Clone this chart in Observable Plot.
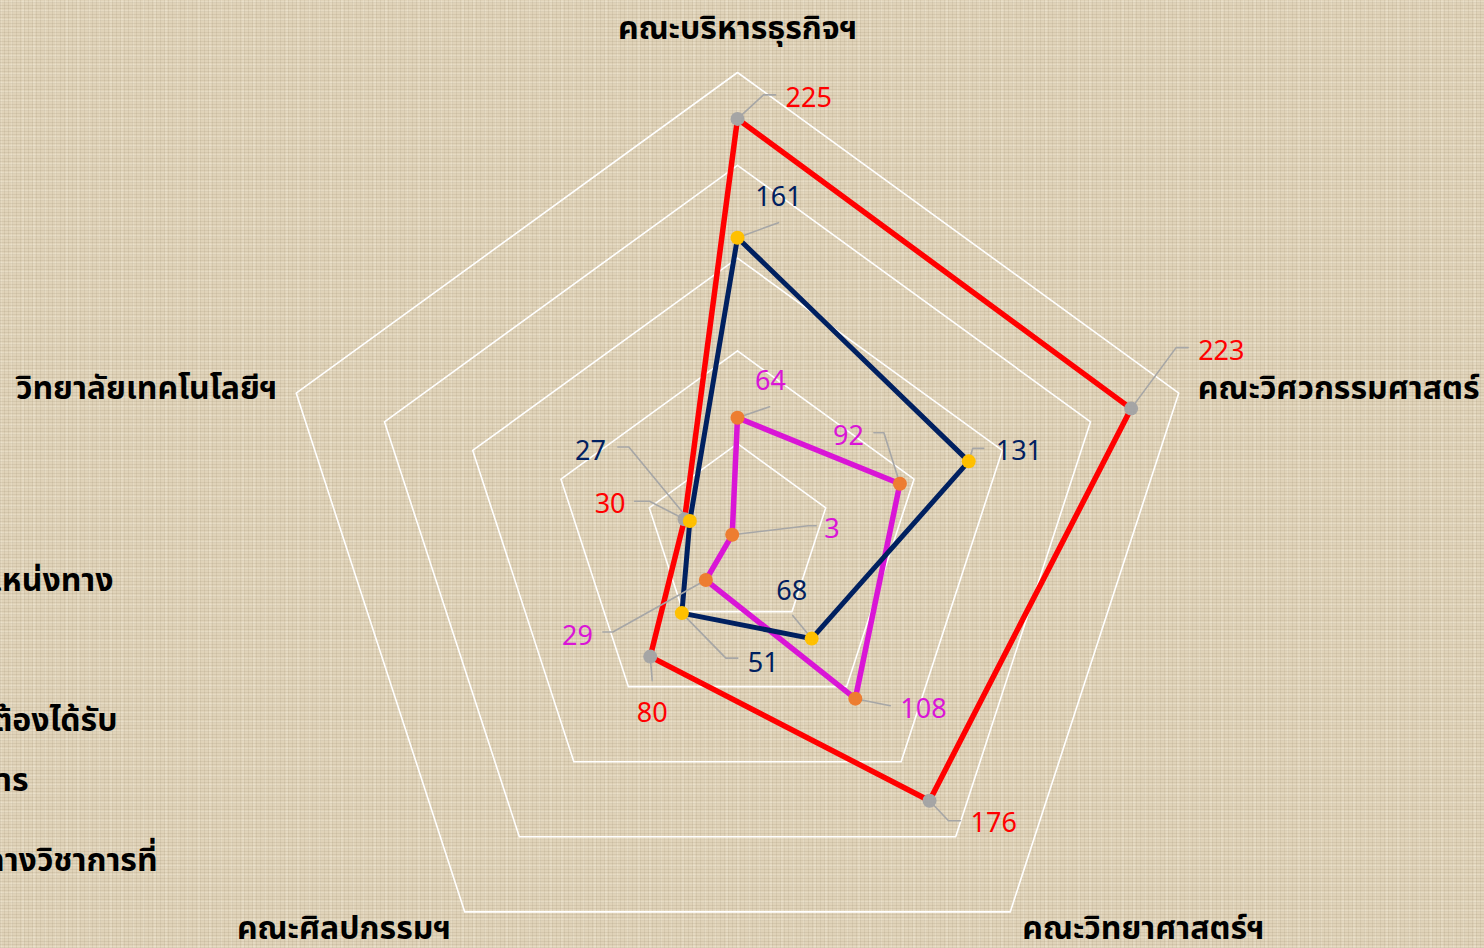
<!DOCTYPE html>
<html>
<head>
<meta charset="utf-8">
<script src="https://cdn.jsdelivr.net/npm/d3@7"></script>
<script src="https://cdn.jsdelivr.net/npm/@observablehq/plot@0.6"></script>
<style>
  html, body { margin: 0; padding: 0; width: 1484px; height: 948px; overflow: hidden; }
  body {
    background-color: #e0d3b9;
    background-image:
      repeating-linear-gradient(0deg, rgba(110, 92, 60, 0.10) 0px, rgba(110, 92, 60, 0.10) 1px, transparent 1px, transparent 3px),
      repeating-linear-gradient(90deg, rgba(110, 92, 60, 0.09) 0px, rgba(110, 92, 60, 0.09) 1px, transparent 1px, transparent 4px),
      repeating-linear-gradient(0deg, rgba(255, 250, 235, 0.20) 0px, rgba(255, 250, 235, 0.20) 2px, transparent 2px, transparent 9px),
      repeating-linear-gradient(90deg, rgba(255, 250, 235, 0.16) 0px, rgba(255, 250, 235, 0.16) 2px, transparent 2px, transparent 11px);
  }
  #chart svg { display: block; }
</style>
</head>
<body>
<div id="chart"></div>
<script>
// ---------------- data ----------------
const faculties = ["คณะบริหารธุรกิจฯ", "คณะวิศวกรรมศาสตร์", "คณะวิทยาศาสตร์ฯ", "คณะศิลปกรรมฯ", "วิทยาลัยเทคโนโลยีฯ"];
const seriesRed = [225, 223, 176, 80, 30];
const seriesNavy = [161, 131, 68, 51, 27];
const seriesMagenta = [64, 92, 108, 29, 3];
const ringTicks = [50, 100, 150, 200, 250];
// legend lines (legend sits mostly off the left edge of the picture)
const legendTexts = ["ตำแหน่งทาง", "ต้องได้รับ", "การ", "ทางวิชาการที่"];

// ---------------- styles / layout ----------------
const W = 1484, H = 948;
const cx = 737, cy = 536;          // centre of the radar in px
const k = 464 / 250;               // px per unit
const FONT = "'Noto Sans Thai', 'Noto Sans', 'Leelawadee UI', Tahoma, sans-serif";

const series = [
  {name: "red", values: seriesRed, line: "#ff0000", dot: "#a5a5a5", text: "#ff0000", width: 5.5},
  {name: "magenta", values: seriesMagenta, line: "#d915d6", dot: "#ed7d31", text: "#d915d6", width: 5.5},
  {name: "navy", values: seriesNavy, line: "#002060", dot: "#ffc000", text: "#002060", width: 5}
];

// label leader offsets (px, y down) per series per axis: leader polyline points, text position, anchor
const labelStyle = {
  red: [
    {lead: [[26, -24], [38, -24]], text: [48, -21], anchor: "start"},
    {lead: [[45, -61], [57, -61]], text: [67, -57], anchor: "start"},
    {lead: [[19, 20], [31, 20]], text: [41, 23], anchor: "start"},
    {lead: [[2, 24]], text: [2, 57], anchor: "middle"},
    {lead: [[-35, -18], [-50, -18]], text: [-59, -15], anchor: "end"}
  ],
  navy: [
    {lead: [[41, -15]], text: [41, -40], anchor: "middle"},
    {lead: [[4, -13], [15, -13]], text: [27, -10], anchor: "start"},
    {lead: [[-19, -23]], text: [-20, -47], anchor: "middle"},
    {lead: [[44, 45], [56, 45]], text: [66, 50], anchor: "start"},
    {lead: [[-61, -74], [-72, -74]], text: [-84, -70], anchor: "end"}
  ],
  magenta: [
    {lead: [[32, -11]], text: [33, -36], anchor: "middle"},
    {lead: [[-16, -51], [-26, -51]], text: [-36, -47], anchor: "end"},
    {lead: [[35, 7]], text: [45, 11], anchor: "start"},
    {lead: [[-93, 52], [-103, 52]], text: [-113, 56], anchor: "end"},
    {lead: [[76, -9], [84, -9]], text: [92, -5], anchor: "start"}
  ]
};

// axis label placement relative to the outer ring vertex (px, y down)
const axisLabelStyle = [
  {off: [0, -44], anchor: "middle"},
  {off: [19, -4], anchor: "start"},
  {off: [12, 17], anchor: "start"},
  {off: [-14, 17], anchor: "end"},
  {off: [-19, -4], anchor: "end"}
];
// legend line placement (px) — right end of each clipped legend line
const legendStyle = [
  {x: 113, y: 580}, {x: 117, y: 720}, {x: 28, y: 780}, {x: 157, y: 860}
];

// ---------------- geometry helpers ----------------
const n = faculties.length;
const ang = i => i * 2 * Math.PI / n;
const px = (i, r) => r * Math.sin(ang(i));
const py = (i, r) => r * Math.cos(ang(i));
const off = ([dx, dy]) => [dx / k, -dy / k];

// grid rings
const rings = ringTicks.flatMap(t =>
  d3.range(n + 1).map(j => ({ring: t, x: px(j % n, t), y: py(j % n, t)}))
);

// series polygons and dots
const polys = series.flatMap(s =>
  d3.range(n + 1).map(j => ({s: s.name, x: px(j % n, s.values[j % n]), y: py(j % n, s.values[j % n])}))
);
const dots = series.flatMap(s =>
  s.values.map((v, i) => ({s: s.name, fill: s.dot, x: px(i, v), y: py(i, v), v, i}))
);

// leaders + labels
const leaders = [];
const labels = [];
series.forEach(s => {
  s.values.forEach((v, i) => {
    const st = labelStyle[s.name][i];
    const x0 = px(i, v), y0 = py(i, v);
    const id = s.name + i;
    leaders.push({id, x: x0, y: y0});
    st.lead.forEach(p => {
      const [ox, oy] = off(p);
      leaders.push({id, x: x0 + ox, y: y0 + oy});
    });
    const [tx, ty] = off(st.text);
    labels.push({x: x0 + tx, y: y0 + ty, text: String(v), color: s.text, anchor: st.anchor});
  });
});

const axisLabels = faculties.map((f, i) => {
  const [ox, oy] = off(axisLabelStyle[i].off);
  return {x: px(i, 250) + ox, y: py(i, 250) + oy, text: f, anchor: axisLabelStyle[i].anchor};
});

const legendLabels = legendTexts.map((t, i) => ({
  x: (legendStyle[i].x - cx) / k, y: (cy - legendStyle[i].y) / k, text: t
}));

const lineMarks = series.map(s =>
  Plot.line(polys.filter(d => d.s === s.name), {x: "x", y: "y", stroke: s.line, strokeWidth: s.width, strokeLinejoin: "miter", curve: "linear"})
);
const dotMarks = series.map(s =>
  Plot.dot(dots.filter(d => d.s === s.name), {x: "x", y: "y", r: 7, fill: s.dot, stroke: "none"})
);

const chart = Plot.plot({
  width: W, height: H,
  margin: 0,
  x: {domain: [-cx / k, (W - cx) / k], axis: null},
  y: {domain: [-(H - cy) / k, cy / k], axis: null},
  style: {background: "transparent", fontFamily: FONT, overflow: "visible"},
  marks: [
    Plot.line(rings, {x: "x", y: "y", z: "ring", stroke: "#ffffff", strokeWidth: 1.6}),
    ...lineMarks,
    Plot.line(leaders, {x: "x", y: "y", z: "id", stroke: "#a6a6a6", strokeWidth: 1.6}),
    ...dotMarks,
    ...["start", "middle", "end"].map(a =>
      Plot.text(labels.filter(d => d.anchor === a), {x: "x", y: "y", text: "text", fill: "color", fontSize: 27, textAnchor: a, fontFamily: FONT})
    ),
    ...["start", "middle", "end"].map(a =>
      Plot.text(axisLabels.filter(d => d.anchor === a), {x: "x", y: "y", text: "text", fill: "#000000", fontSize: 32, fontWeight: "bold", textAnchor: a, fontFamily: FONT})
    ),
    Plot.text(legendLabels, {x: "x", y: "y", text: "text", fill: "#000000", fontSize: 32, fontWeight: "bold", textAnchor: "end", fontFamily: FONT})
  ]
});
document.getElementById("chart").appendChild(chart);
</script>
</body>
</html>
